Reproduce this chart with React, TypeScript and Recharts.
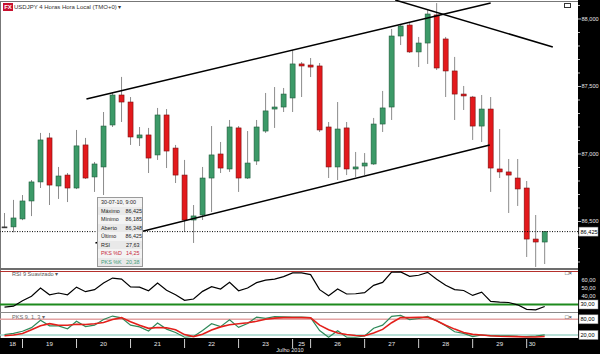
import React from "react";
import {
  ComposedChart,
  Bar,
  Line,
  XAxis,
  YAxis,
  ReferenceLine,
} from "recharts";

// 4h candles, 18-30 Jul 2010 (index 0 = first visible candle)
const OPEN = [86.46, 86.46, 86.519, 86.652, 86.793, 87.119, 86.763, 86.844, 86.748, 87.067, 86.83, 86.904, 87.215, 87.437, 87.385, 87.119, 87.141, 86.993, 87.289, 87.044, 86.844, 86.511, 86.548, 86.822, 87.0, 86.889, 87.193, 86.822, 86.948, 87.17, 87.333, 87.348, 87.415, 87.667, 87.659, 87.652, 87.2, 86.904, 87.193, 86.889, 86.911, 86.926, 87.222, 87.348, 87.874, 87.955, 87.756, 87.822, 88.03, 87.852, 87.615, 87.444, 87.422, 87.207, 87.333, 86.889, 86.867, 86.822, 86.748, 86.37, 86.348];
const HIGH = [86.563, 86.66, 86.696, 86.807, 87.156, 87.156, 86.904, 86.859, 87.178, 87.119, 86.941, 87.311, 87.452, 87.571, 87.422, 87.2, 87.193, 87.341, 87.333, 87.067, 86.956, 86.622, 86.904, 87.207, 87.089, 87.252, 87.207, 87.17, 87.252, 87.452, 87.496, 87.489, 87.77, 87.681, 87.711, 87.674, 87.237, 87.385, 87.237, 87.015, 87.007, 87.267, 87.467, 87.926, 87.963, 87.978, 87.867, 88.074, 88.118, 87.867, 87.719, 87.504, 87.43, 87.437, 87.422, 87.185, 86.963, 86.963, 86.8, 86.548, 86.425];
const LOW = [86.452, 86.42, 86.51, 86.54, 86.748, 86.622, 86.667, 86.644, 86.74, 86.815, 86.719, 86.696, 87.2, 87.237, 87.067, 87.059, 86.859, 86.956, 86.896, 86.785, 86.422, 86.341, 86.511, 86.57, 86.859, 86.867, 86.719, 86.815, 86.919, 87.156, 87.193, 87.311, 87.311, 87.422, 87.57, 87.163, 86.822, 86.807, 86.844, 86.83, 86.844, 86.919, 87.163, 87.252, 87.807, 87.748, 87.644, 87.667, 87.622, 87.422, 87.252, 87.326, 87.104, 87.089, 86.719, 86.822, 86.563, 86.615, 86.237, 86.163, 86.185];
const CLOSE = [86.46, 86.526, 86.652, 86.793, 87.104, 86.77, 86.837, 86.748, 87.06, 86.822, 86.926, 87.207, 87.437, 87.385, 87.126, 87.141, 86.97, 87.289, 87.022, 86.844, 86.511, 86.541, 86.822, 86.993, 86.896, 87.2, 86.822, 86.933, 87.2, 87.319, 87.348, 87.444, 87.667, 87.652, 87.644, 87.178, 86.904, 87.185, 86.889, 86.904, 86.933, 87.222, 87.341, 87.874, 87.948, 87.756, 87.822, 88.037, 87.637, 87.615, 87.444, 87.43, 87.207, 87.333, 86.896, 86.867, 86.844, 86.741, 86.37, 86.348, 86.425];

const RSI = [26.8, 28, 34.5, 40, 50, 41.8, 43.9, 41.8, 51, 45.5, 48, 56, 62, 60.7, 51.2, 51, 46.7, 56, 47.3, 41.8, 35, 36.6, 45.9, 51.6, 48.8, 56.8, 46.7, 50, 56.5, 59.5, 60.7, 63.8, 68.3, 68.3, 66.2, 48, 40.6, 48.8, 42.7, 43, 44.3, 53.2, 56.8, 69.3, 69.5, 64.1, 65.4, 69, 60.7, 53.2, 48, 47, 41, 44.9, 33.7, 32.9, 32.4, 29.6, 24.1, 23.5, 27.63];
const PKS_K = [21.9, 26.4, 34.3, 48, 76, 55, 55, 43.6, 72.5, 52, 57.5, 79, 92.4, 85.6, 57.5, 51, 35, 66, 42.5, 29.4, 11.4, 14.4, 37, 63, 52, 78, 49, 64, 88.6, 83.8, 90, 89.4, 88.6, 88.6, 86.4, 37, 11.4, 36, 11.4, 11.4, 16.3, 46, 57.5, 91, 95, 79, 83, 91, 74.4, 55.6, 32.4, 26.4, 14, 20, 16.3, 16.3, 16.3, 14.4, 13.6, 15.5, 20.38];
const PKS_D = [17, 20, 26, 40, 55.6, 63.5, 57.5, 57.5, 61, 60, 62.8, 68, 79, 86.4, 70.6, 57.5, 45.5, 48.5, 47.4, 40.3, 21.5, 14, 23, 38.8, 51, 59.4, 63, 67, 72.5, 80, 84.5, 86.4, 86.4, 86.4, 85.3, 57.5, 40.3, 27.5, 21.9, 18, 17, 27.5, 41.4, 67, 86.4, 86.4, 87.5, 87.5, 74.4, 57.5, 42.5, 29.4, 22.3, 20, 17, 15, 14, 13.6, 12.5, 12.5, 14.25];

// day separators (candle index of first bar) and day labels
const DAY_SEP = [2, 8, 14, 20, 26, 32, 34, 40, 46, 52, 58];
const DAY_POS = [0.9, 5, 11, 17, 23, 29, 33, 37, 43, 49, 55, 58.6];
const DAY_LABELS = ["18", "19", "20", "21", "22", "23", "25", "26", "27", "28", "29", "30"];

const PRICE_LABELS = [86.5, 87, 87.5, 88];
const PRICE_MINOR = [86.2, 86.3, 86.4, 86.6, 86.7, 86.8, 86.9, 87.1, 87.2, 87.3, 87.4, 87.6, 87.7, 87.8, 87.9, 88.1];
const RSI_TICKS = [30, 40, 50, 60];
const PKS_TICKS = [20, 80];

// hand-drawn trend lines (candle index, price)
const TRENDS = [
  { x1: 9.1, y1: 87.407, x2: 54, y2: 88.119 },
  { x1: 10.1, y1: 86.341, x2: 53.9, y2: 87.067 },
  { x1: 43.4, y1: 88.14, x2: 60.9, y2: 87.793 },
];

const X_DOMAIN = [-0.5, 63.7];
const GREEN = "#3c9a68";
const GREEN_EDGE = "#1f5c3b";
const RED = "#e3191c";
const RED_EDGE = "#7a0f10";
const WICK = "#8c8c8c";
const AXIS_TEXT = "#e6e6e6";
const FONT = "'Liberation Sans', Arial, sans-serif";

const rows = OPEN.map((o, i) => ({
  i,
  o,
  h: HIGH[i],
  l: LOW[i],
  c: CLOSE[i],
  range: [LOW[i], HIGH[i]],
  rsi: RSI[i],
  k: PKS_K[i],
  d: PKS_D[i],
}));

const LAST = rows[rows.length - 1];
const fmt = (v: number, n: number) => v.toFixed(n).replace(".", ",");

function Candle(props: any) {
  const { x, y, width, height, payload } = props;
  if (!payload) return null;
  const { o, h, l, c } = payload;
  const top = Math.min(y, y + height);
  const span = Math.abs(height);
  const k = span / (h - l);
  const py = (v: number) => top + (h - v) * k;
  const cx = x + width / 2;
  const bTop = py(Math.max(o, c));
  const bH = Math.max(1, py(Math.min(o, c)) - bTop);
  const fill = c > o ? GREEN : c < o ? RED : "#333";
  const edge = c > o ? GREEN_EDGE : c < o ? RED_EDGE : "#333";
  return (
    <g>
      <line x1={cx} x2={cx} y1={top} y2={top + span} stroke={WICK} strokeWidth={1} />
      <rect x={x} y={bTop} width={width} height={bH} fill={fill} stroke={edge} strokeWidth={0.6} />
    </g>
  );
}

function Boxed({ x, y, text }: { x: number; y: number; text: string }) {
  return (
    <g>
      <rect x={x + 1} y={y - 4.5} width={19} height={9} fill="#fff" stroke="#888" strokeWidth={0.5} />
      <text x={x + 2.5} y={y + 2} fontSize={5.6} fill="#000" fontFamily={FONT}>
        {text}
      </text>
    </g>
  );
}

function PriceTick(props: any) {
  const { x, y, payload } = props;
  const v = payload.value;
  if (v === LAST.c) return <Boxed x={x} y={y} text={fmt(v, 3)} />;
  const major = PRICE_LABELS.includes(v);
  return (
    <g>
      <line x1={x} x2={x + (major ? 3 : 2)} y1={y} y2={y} stroke="#bbb" />
      {major && (
        <text x={x + 3.5} y={y + 2} fontSize={5.6} fill={AXIS_TEXT} fontFamily={FONT}>
          {fmt(v, 3)}
        </text>
      )}
    </g>
  );
}

function RsiTick(props: any) {
  const { x, y, payload } = props;
  const v = payload.value;
  if (v === 30) return <Boxed x={x} y={y} text={fmt(v, 2)} />;
  return (
    <text x={x + 3.5} y={y + 2} fontSize={5.6} fill={AXIS_TEXT} fontFamily={FONT}>
      {fmt(v, 2)}
    </text>
  );
}

function PksTick(props: any) {
  const { x, y, payload } = props;
  return <Boxed x={x} y={y} text={fmt(payload.value, 2)} />;
}

function DateTick(props: any) {
  const { x, y, payload } = props;
  const li = DAY_POS.indexOf(payload.value);
  if (li >= 0) {
    return (
      <text x={x} y={y + 8} textAnchor="middle" fontSize={6.2} fill={AXIS_TEXT} fontFamily={FONT}>
        {DAY_LABELS[li]}
      </text>
    );
  }
  return <line x1={x} x2={x} y1={y + 1} y2={y + 10} stroke="#d0d0d0" strokeWidth={1} />;
}

const TIP_ROWS = [
  { label: "Máximo", value: fmt(LAST.h, 3), color: "#222" },
  { label: "Mínimo", value: fmt(LAST.l, 3), color: "#222" },
  { label: "Aberto", value: fmt(LAST.o, 3), color: "#222" },
  { label: "Último", value: fmt(LAST.c, 3), color: "#222" },
  { label: "RSI", value: fmt(LAST.rsi, 2), color: "#222" },
  { label: "PKS %D", value: fmt(LAST.d, 2), color: "#c8283c" },
  { label: "PKS %K", value: fmt(LAST.k, 2), color: "#3c9a78" },
];

const abs = (l: number, t: number, w: number, h: number, extra: any = {}) => ({
  position: "absolute" as const,
  left: l,
  top: t,
  width: w,
  height: h,
  ...extra,
});

export default function App() {
  const margin = { top: 0, right: 0, bottom: 0, left: 0 };
  return (
    <div style={abs(0, 0, 600, 354, { background: "#fff", overflow: "hidden", fontFamily: FONT })}>
      {/* dark axis strips */}
      <div style={abs(578, 0, 22, 354, { background: "#000" })} />
      <div style={abs(0, 338, 600, 16, { background: "#000" })} />
      <div style={abs(0, 1, 578, 1, { background: "#777" })} />
      <div style={abs(0, 1, 1, 337, { background: "#777" })} />
      <div style={abs(0, 268, 578, 2, { background: "#6d6d6d" })} />
      <div style={abs(0, 312, 578, 1, { background: "#8a8a8a" })} />

      {/* price pane */}
      <div style={abs(0, 0, 600, 268)}>
        <ComposedChart width={600} height={268} data={rows} margin={margin}>
          <XAxis dataKey="i" type="number" domain={X_DOMAIN} hide allowDataOverflow />
          <YAxis
            orientation="right"
            width={22}
            type="number"
            domain={[86.1555, 88.1407]}
            allowDataOverflow
            ticks={[...PRICE_MINOR, ...PRICE_LABELS, LAST.c]}
            interval={0}
            axisLine={false}
            tickLine={false}
            tickSize={0}
            tickMargin={0}
            tick={<PriceTick />}
          />
          <Bar dataKey="range" barSize={5} shape={<Candle />} isAnimationActive={false} />
          <ReferenceLine y={LAST.c} stroke="#000" strokeDasharray="1 1.5" />
          {TRENDS.map((t, n) => (
            <ReferenceLine
              key={n}
              segment={[
                { x: t.x1, y: t.y1 },
                { x: t.x2, y: t.y2 },
              ]}
              stroke="#000"
              strokeWidth={1.6}
              ifOverflow="visible"
            />
          ))}
        </ComposedChart>
      </div>

      {/* RSI pane */}
      <div style={abs(0, 270, 600, 42)}>
        <ComposedChart width={600} height={42} data={rows} margin={margin}>
          <XAxis dataKey="i" type="number" domain={X_DOMAIN} hide allowDataOverflow />
          <YAxis
            orientation="right"
            width={22}
            type="number"
            domain={[20.9, 71.8]}
            allowDataOverflow
            ticks={RSI_TICKS}
            interval={0}
            axisLine={false}
            tickLine={false}
            tickSize={0}
            tickMargin={0}
            tick={<RsiTick />}
          />
          <ReferenceLine y={70} stroke="#b5302c" strokeWidth={1.2} />
          <ReferenceLine y={30} stroke="#1d8a1d" strokeWidth={2} />
          <Line type="linear" dataKey="rsi" stroke="#000" strokeWidth={1.2} dot={false} isAnimationActive={false} />
        </ComposedChart>
      </div>

      {/* PKS stochastic pane + date axis */}
      <div style={abs(0, 313, 600, 41)}>
        <ComposedChart width={600} height={41} data={rows} margin={margin}>
          <XAxis
            dataKey="i"
            type="number"
            domain={X_DOMAIN}
            allowDataOverflow
            height={16}
            ticks={[...DAY_SEP, ...DAY_POS]}
            interval={0}
            axisLine={false}
            tickLine={false}
            tickSize={0}
            tickMargin={0}
            tick={<DateTick />}
          />
          <YAxis
            orientation="right"
            width={22}
            type="number"
            domain={[8.5, 104.1]}
            allowDataOverflow
            ticks={PKS_TICKS}
            interval={0}
            axisLine={false}
            tickLine={false}
            tickSize={0}
            tickMargin={0}
            tick={<PksTick />}
          />
          <ReferenceLine y={80} stroke="#e4a4a4" strokeWidth={1.5} />
          <ReferenceLine y={20} stroke="#a2d6ca" strokeWidth={1.5} />
          <Line type="linear" dataKey="k" stroke="#2f8a5a" strokeWidth={1.2} dot={false} isAnimationActive={false} />
          <Line type="linear" dataKey="d" stroke="#e3201b" strokeWidth={1.6} dot={false} isAnimationActive={false} />
        </ComposedChart>
      </div>

      {/* titles */}
      <div style={abs(3, 3, 10, 8, { background: "#c8102e", color: "#fff", fontSize: 6, fontWeight: 700, lineHeight: "8px", textAlign: "center" })}>
        FX
      </div>
      <div style={abs(14, 2, 110, 10, { fontSize: 6, lineHeight: "10px", color: "#333", whiteSpace: "nowrap" })}>
        USDJPY 4 Horas Hora Local (TMO+0) ▾
      </div>
      <div style={abs(12, 270, 60, 8, { fontSize: 5.6, lineHeight: "8px", color: "#555", whiteSpace: "nowrap" })}>
        RSI 9 Suavizado ▾
      </div>
      <div style={abs(12, 313, 60, 8, { fontSize: 5.6, lineHeight: "8px", color: "#6a6a6a", whiteSpace: "nowrap" })}>
        PKS 9, 1, 3 ▾
      </div>
      <div style={abs(564, 3, 5, 3, { border: "1px solid #333" })} />
      <div style={abs(565, 270, 12, 6, { fontSize: 6, lineHeight: "6px", color: "#222", whiteSpace: "nowrap" })}>□×</div>
      <div style={abs(565, 314, 12, 6, { fontSize: 6, lineHeight: "6px", color: "#222", whiteSpace: "nowrap" })}>□×</div>
      <div style={abs(250, 347, 80, 7, { fontSize: 5.6, lineHeight: "7px", color: AXIS_TEXT, textAlign: "center" })}>
        Julho 2010
      </div>

      {/* data window for the last candle */}
      <div style={abs(97, 197, 46, 70, { background: "#f3f3f3", border: "1px solid #9a9a9a", boxSizing: "border-box", fontSize: 5.4, color: "#222" })}>
        <div style={{ height: 8.5, lineHeight: "8.5px", paddingLeft: 3, whiteSpace: "nowrap" }}>30-07-10, 9:00</div>
        {TIP_ROWS.map((r, n) => (
          <div
            key={r.label}
            style={{ display: "flex", height: 8.5, lineHeight: "8.5px", paddingLeft: 3, color: r.color, background: n % 2 === 0 ? "#e9e9e9" : "transparent" }}
          >
            <span style={{ width: 25 }}>{r.label}</span>
            <span>{r.value}</span>
          </div>
        ))}
      </div>
    </div>
  );
}
